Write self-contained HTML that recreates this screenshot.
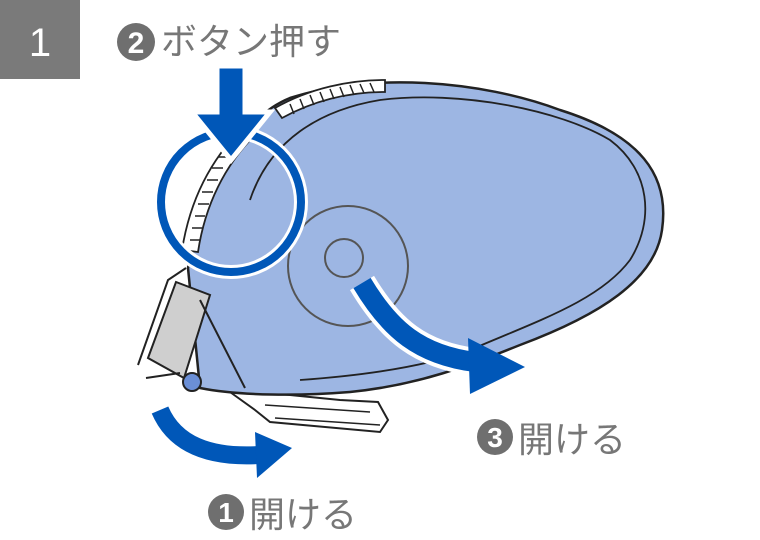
<!DOCTYPE html>
<html><head><meta charset="utf-8"><style>
body{margin:0;background:#fff;width:760px;height:540px;overflow:hidden}
svg{display:block}
text{font-family:"Liberation Sans","Noto Sans CJK JP",sans-serif}
</style></head><body>
<svg width="760" height="540" viewBox="0 0 760 540">
<rect x="0" y="0" width="80" height="79" fill="#7a7a7a"/>
<text x="40" y="56" font-size="40" fill="#fff" text-anchor="middle">1</text>
<circle cx="136" cy="42" r="19" fill="#6f6f6f"/>
<text x="136" y="53" font-size="30" font-weight="bold" fill="#fff" text-anchor="middle">2</text>
<text x="161" y="54" font-size="36" fill="#777">ボタン押す</text>

<!-- base stand -->
<path d="M230 392 L255 410 L270 422 L380 432 L388 420 L378 402 L340 400 L260 392 Z" fill="#fff" stroke="#222" stroke-width="2"/>
<path d="M265 405 L370 412 M275 418 L380 425" stroke="#222" stroke-width="1.5" fill="none"/>
<!-- body -->
<path d="M188 268 C200 200 235 120 290 98 C370 72 480 80 560 110 C640 135 670 175 662 230 C655 280 600 315 520 345 C470 365 420 385 350 392 C300 396 240 396 200 388 Z" fill="#9db6e3" stroke="#222" stroke-width="2.5"/>
<path d="M250 200 C270 140 320 110 380 100 C460 90 560 110 610 140 C650 170 655 220 630 260 C600 300 540 320 470 350 C430 365 370 375 300 380" fill="none" stroke="#222" stroke-width="1.8"/>
<!-- teeth ridge -->
<g stroke="#222" stroke-width="1.8" fill="#fff">
<path d="M275 108 C310 88 350 80 385 80 L385 92 C350 92 315 100 282 118 Z"/>
<path d="M182 250 C190 200 210 160 245 125 L255 135 C225 165 205 205 198 252 Z"/>
</g>
<g stroke="#222" stroke-width="1.5" fill="none">
<path d="M290 104 l4 10 M300 99 l4 10 M310 95 l4 10 M320 92 l4 10 M330 89 l4 10 M340 87 l4 10 M350 85 l4 10 M360 84 l4 9 M370 83 l4 9"/>
<path d="M190 240 h10 M192 228 h10 M195 216 h10 M198 204 h11 M202 192 h11 M207 180 h11 M212 168 h11 M218 157 h11 M225 146 h11 M233 136 h11"/>
</g>
<!-- hinge -->
<path d="M148 358 L176 282 L210 295 L184 378 Z" fill="#cfcfcf" stroke="#222" stroke-width="2"/>
<path d="M138 365 L168 280 L186 268 M146 378 L180 373" fill="none" stroke="#222" stroke-width="2"/>
<path d="M200 300 L245 388" stroke="#222" stroke-width="2" fill="none"/>
<circle cx="192" cy="382" r="9" fill="#6b8fd6" stroke="#222" stroke-width="2"/>
<!-- disc -->
<circle cx="348" cy="266" r="60" fill="none" stroke="#555" stroke-width="2"/>
<circle cx="344" cy="258" r="19" fill="none" stroke="#555" stroke-width="2"/>
<!-- highlight circle -->
<circle cx="231" cy="202" r="70" fill="none" stroke="#fff" stroke-width="14"/>
<circle cx="231" cy="202" r="70" fill="none" stroke="#0057b8" stroke-width="8"/>
<!-- down arrow -->
<path d="M217 66 H245 V112 H270 L231 160 L192 112 H217 Z" fill="#0057b8" stroke="#fff" stroke-width="5" stroke-linejoin="miter"/>
<!-- arrow 3 -->
<path d="M362 283 C390 330 420 355 475 362" fill="none" stroke="#fff" stroke-width="28"/>
<path d="M362 283 C390 330 420 355 475 362" fill="none" stroke="#0057b8" stroke-width="20"/>
<path d="M468 338 L525 367 L470 394 Z" fill="#0057b8"/>
<!-- arrow 1 -->
<path d="M160 410 C175 445 210 458 260 455" fill="none" stroke="#0057b8" stroke-width="18"/>
<path d="M255 432 L292 448 L257 478 Z" fill="#0057b8"/>
<!-- labels -->
<circle cx="495" cy="437" r="18" fill="#6f6f6f"/>
<text x="495" y="447" font-size="28" font-weight="bold" fill="#fff" text-anchor="middle">3</text>
<text x="518" y="452" font-size="36" fill="#777">開ける</text>
<circle cx="226" cy="512" r="18" fill="#6f6f6f"/>
<text x="226" y="522" font-size="28" font-weight="bold" fill="#fff" text-anchor="middle">1</text>
<text x="249" y="527" font-size="36" fill="#777">開ける</text>
</svg>
</body></html>
